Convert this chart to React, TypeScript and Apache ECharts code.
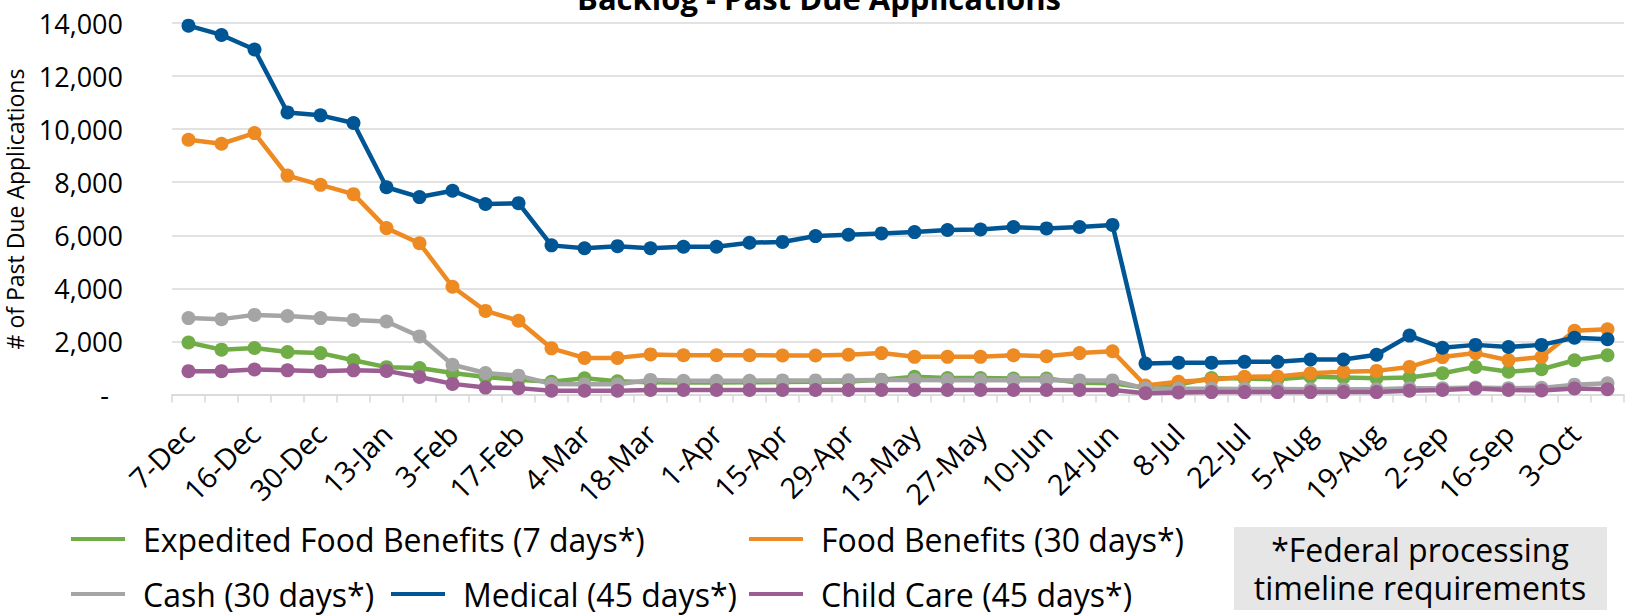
import React, { useEffect, useRef } from "react";
import * as echarts from "echarts";

const categories = [
  "7-Dec", "9-Dec", "16-Dec", "23-Dec", "30-Dec", "6-Jan", "13-Jan", "27-Jan", "3-Feb", "10-Feb",
  "17-Feb", "24-Feb", "4-Mar", "11-Mar", "18-Mar", "25-Mar", "1-Apr", "8-Apr", "15-Apr", "22-Apr",
  "29-Apr", "6-May", "13-May", "20-May", "27-May", "3-Jun", "10-Jun", "17-Jun", "24-Jun", "1-Jul",
  "8-Jul", "15-Jul", "22-Jul", "29-Jul", "5-Aug", "12-Aug", "19-Aug", "26-Aug", "2-Sep", "9-Sep",
  "16-Sep", "23-Sep", "3-Oct", "10-Oct",
];

const expedited = [
  1960, 1690, 1750, 1600, 1560, 1290, 1030, 1000, 810, 660, 560, 480,
  610, 500, 460, 450, 450, 460, 470, 480, 490, 560, 670, 620, 620, 600, 600, 440, 420,
  250, 380, 620, 600, 570, 670, 640, 610, 640, 800, 1040, 860, 950, 1290, 1480,
];

const food = [
  9600, 9450, 9850, 8250, 7900, 7550, 6270, 5700, 4060, 3150, 2780, 1740,
  1380, 1380, 1510, 1480, 1480, 1480, 1470, 1470, 1500, 1560, 1420, 1420, 1420, 1480, 1440, 1560, 1630,
  340, 480, 560, 670, 680, 800, 860, 890, 1040, 1410, 1560, 1290, 1410, 2400, 2460,
];

const cash = [
  2880, 2840, 3000, 2960, 2880, 2810, 2750, 2190, 1120, 810, 710, 400,
  390, 390, 550, 520, 520, 520, 530, 530, 540, 550, 550, 540, 540, 540, 540, 530, 530,
  230, 220, 220, 210, 210, 200, 200, 200, 240, 240, 260, 240, 250, 370, 420,
];

const medical = [
  13900, 13550, 13000, 10630, 10520, 10230, 7810, 7440, 7680, 7180, 7210, 5620,
  5510, 5590, 5510, 5570, 5570, 5720, 5750, 5970, 6020, 6070, 6120, 6200, 6220, 6310, 6260, 6310, 6390,
  1170, 1200, 1200, 1230, 1230, 1320, 1320, 1500, 2220, 1760, 1870, 1790, 1870, 2140, 2080,
];

const childCare = [
  880, 880, 940, 910, 880, 910, 890, 660, 400, 260, 240, 140,
  140, 140, 170, 170, 170, 170, 170, 170, 170, 170, 170, 170, 170, 170, 170, 170, 170,
  50, 80, 90, 90, 90, 90, 90, 90, 140, 170, 230, 170, 150, 230, 200,
];

const seriesDefs = [
  { name: "Expedited Food Benefits (7 days*)", data: expedited, color: "#70AD47" },
  { name: "Food Benefits (30 days*)", data: food, color: "#EE8A22" },
  { name: "Cash (30 days*)", data: cash, color: "#A5A5A5" },
  { name: "Medical (45 days*)", data: medical, color: "#005595" },
  { name: "Child Care (45 days*)", data: childCare, color: "#9C5D93" },
];

const legendPos = [
  { left: 71, top: 523 },
  { left: 749, top: 523 },
  { left: 71, top: 578 },
  { left: 391, top: 578 },
  { left: 749, top: 578 },
];

const FONT = "Open Sans";

export default function App() {
  const ref = useRef<HTMLDivElement>(null);

  useEffect(() => {
    document.body.style.margin = "0";
    if (!ref.current) return;
    const chart = echarts.init(ref.current, undefined, { renderer: "svg" });
    const option: any = {
      animation: false,
      backgroundColor: "#ffffff",
      grid: { left: 172, right: 12, top: 23, bottom: 220.5, containLabel: false },
      xAxis: {
        type: "category",
        data: categories,
        boundaryGap: true,
        axisLine: { lineStyle: { color: "#D9D9D9", width: 1.5 } },
        axisTick: { show: true, interval: 0, length: 8, lineStyle: { color: "#D9D9D9", width: 1.5 } },
        axisLabel: {
          interval: 1,
          rotate: 45,
          margin: 34,
          fontFamily: FONT,
          fontSize: 29,
          color: "#000000",
        },
        splitLine: { show: false },
      },
      yAxis: {
        type: "value",
        min: 0,
        max: 14000,
        interval: 2000,
        axisLine: { show: false },
        axisTick: { show: false },
        axisLabel: {
          margin: 49,
          fontFamily: FONT,
          fontSize: 27,
          color: "#000000",
          formatter: (v: number) => (v === 0 ? "-  " : v.toLocaleString("en-US")),
        },
        splitLine: { lineStyle: { color: "#D9D9D9", width: 1.5 } },
      },
      legend: seriesDefs.map((s, i) => ({
        data: [s.name],
        left: legendPos[i].left,
        top: legendPos[i].top,
        orient: "horizontal",
        icon: "rect",
        itemWidth: 54,
        itemHeight: 4,
        padding: 0,
        selectedMode: false,
        textStyle: {
          fontFamily: FONT,
          fontSize: 32,
          color: "#000000",
          padding: [0, 0, 0, 13],
        },
      })),
      graphic: [
        {
          type: "text",
          x: 819,
          y: -2,
          style: {
            text: "Backlog - Past Due Applications",
            fontFamily: FONT,
            fontWeight: "bold",
            fontSize: 31,
            fill: "#000000",
            align: "center",
            verticalAlign: "middle",
          },
        },
        {
          type: "text",
          x: 15,
          y: 209,
          rotation: Math.PI / 2,
          style: {
            text: "# of Past Due Applications",
            fontFamily: FONT,
            fontSize: 23,
            fill: "#000000",
            align: "center",
            verticalAlign: "middle",
          },
        },
        {
          type: "rect",
          shape: { x: 1234, y: 527, width: 373, height: 83 },
          style: { fill: "#E6E6E6" },
        },
        {
          type: "text",
          x: 1420,
          y: 549,
          style: {
            text: "*Federal processing",
            fontFamily: FONT,
            fontSize: 32,
            fill: "#000000",
            align: "center",
            verticalAlign: "middle",
          },
        },
        {
          type: "text",
          x: 1420,
          y: 587,
          style: {
            text: "timeline requirements",
            fontFamily: FONT,
            fontSize: 32,
            fill: "#000000",
            align: "center",
            verticalAlign: "middle",
          },
        },
      ],
      series: seriesDefs.map((s) => ({
        name: s.name,
        type: "line",
        data: s.data,
        symbol: "circle",
        symbolSize: 14,
        lineStyle: { color: s.color, width: 4.5 },
        itemStyle: { color: s.color },
        emphasis: { disabled: true },
      })),
    };
    chart.setOption(option);
    return () => chart.dispose();
  }, []);

  return <div ref={ref} style={{ width: 1636, height: 615 }} />;
}
